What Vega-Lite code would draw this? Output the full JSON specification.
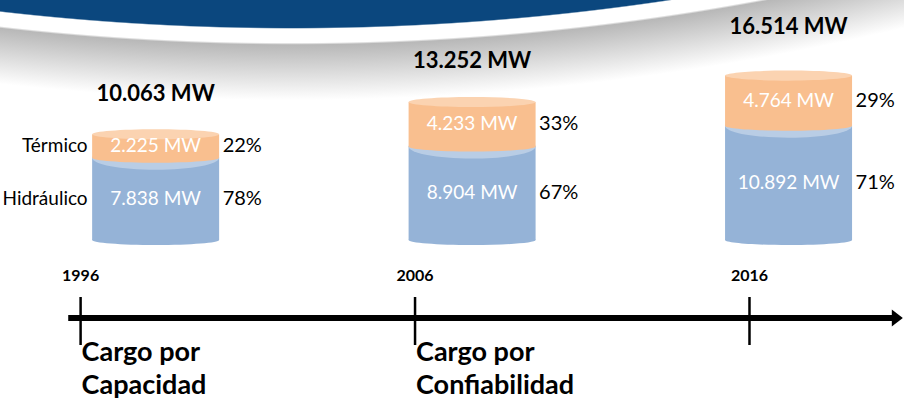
{
  "$schema": "https://vega.github.io/schema/vega-lite/v6.json",
  "width": 904,
  "height": 404,
  "padding": 0,
  "autosize": {"type": "none"},
  "datasets": {
    "segmentos": [
      {"year": 1996, "tipo": "Hidráulico", "mw": 7838, "pct": 0.78},
      {"year": 1996, "tipo": "Térmico", "mw": 2225, "pct": 0.22},
      {"year": 2006, "tipo": "Hidráulico", "mw": 8904, "pct": 0.67},
      {"year": 2006, "tipo": "Térmico", "mw": 4233, "pct": 0.33},
      {"year": 2016, "tipo": "Hidráulico", "mw": 10892, "pct": 0.71},
      {"year": 2016, "tipo": "Térmico", "mw": 4764, "pct": 0.29}
    ],
    "totales": [
      {"year": 1996, "total": 10063},
      {"year": 2006, "total": 13252},
      {"year": 2016, "total": 16514}
    ],
    "hitos": [
      {"year": 1996, "cargo": "Cargo por\nCapacidad"},
      {"year": 2006, "cargo": "Cargo por\nConfiabilidad"},
      {"year": 2016, "cargo": ""}
    ]
  },
  "resolve": {"scale": {"x": "independent"}},
  "layer": [
    {
      "data": {"values": [{}]},
      "mark": {
        "type": "rect",
        "stroke": null,
        "fill": {
          "gradient": "radial",
          "x1": 0.3226, "y1": -2.525, "r1": 0,
          "x2": 0.3226, "y2": -2.525, "r2": 2.987,
          "stops": [
            {"offset": 0, "color": "#0B477E"},
            {"offset": 0.9481, "color": "#0B477E"},
            {"offset": 0.9486, "color": "#ffffff"},
            {"offset": 0.9537, "color": "#ffffff"},
            {"offset": 0.9545, "color": "#b8b8b8"},
            {"offset": 0.975, "color": "#ffffff"},
            {"offset": 1, "color": "#ffffff"}
          ]
        }
      },
      "encoding": {}
    },
    {
      "data": {"name": "hitos"},
      "layer": [
        {
          "data": {"values": [{}]},
          "mark": {"type": "rule", "color": "#000000", "strokeWidth": 6},
          "encoding": {
            "x": {"datum": 1995.63, "type": "quantitative", "scale": {"domain": [1993.59, 2020.62], "nice": false, "zero": false}, "axis": null},
            "x2": {"datum": 2020.3},
            "y": {"datum": -7429, "type": "quantitative", "scale": {"domain": [-15619, 22857], "nice": false, "zero": false}, "axis": null}
          }
        },
        {
          "data": {"values": [{}]},
          "mark": {"type": "point", "shape": "M-0.65,-1L0.65,0L-0.65,1Z", "filled": true, "color": "#000000", "opacity": 1, "size": 289},
          "encoding": {
            "x": {"datum": 2020.42, "type": "quantitative", "scale": {"domain": [1993.59, 2020.62], "nice": false, "zero": false}, "axis": null},
            "y": {"datum": -7429, "type": "quantitative", "scale": {"domain": [-15619, 22857], "nice": false, "zero": false}, "axis": null}
          }
        },
        {
          "mark": {"type": "rule", "color": "#000000", "strokeWidth": 2.5},
          "encoding": {
            "x": {"field": "year", "type": "quantitative", "scale": {"domain": [1993.59, 2020.62], "nice": false, "zero": false}, "axis": null},
            "y": {"datum": -5429, "type": "quantitative", "scale": {"domain": [-15619, 22857], "nice": false, "zero": false}, "axis": null},
            "y2": {"datum": -10000}
          }
        },
        {
          "mark": {"type": "text", "fontWeight": "bold", "fontSize": 16, "color": "#000000", "baseline": "middle"},
          "encoding": {
            "x": {"field": "year", "type": "quantitative", "scale": {"domain": [1993.59, 2020.62], "nice": false, "zero": false}, "axis": null},
            "y": {"datum": -3429, "type": "quantitative", "scale": {"domain": [-15619, 22857], "nice": false, "zero": false}, "axis": null},
            "text": {"field": "year", "type": "nominal"}
          }
        },
        {
          "mark": {"type": "text", "fontWeight": "bold", "fontSize": 27, "color": "#000000", "align": "left", "baseline": "top", "dx": 1, "lineBreak": "\n", "lineHeight": 33},
          "encoding": {
            "x": {"field": "year", "type": "quantitative", "scale": {"domain": [1993.59, 2020.62], "nice": false, "zero": false}, "axis": null},
            "y": {"datum": -9524, "type": "quantitative", "scale": {"domain": [-15619, 22857], "nice": false, "zero": false}, "axis": null},
            "text": {"field": "cargo", "type": "nominal"}
          }
        }
      ]
    },
    {
      "layer": [
        {
          "data": {"name": "segmentos"},
          "transform": [
            {"stack": "mw", "groupby": ["year"], "sort": [{"field": "tipo", "order": "ascending"}], "as": ["y0", "y1"]}
          ],
          "layer": [
            {
              "transform": [{"filter": {"field": "tipo", "equal": "Hidráulico"}}],
              "layer": [
                {
                  "mark": {"type": "point", "shape": "M-1,0A1,0.079,0,1,0,1,0A1,0.079,0,1,0,-1,0Z", "filled": true, "color": "#95B3D7", "opacity": 1, "size": 16129},
                  "encoding": {
                    "x": {"field": "year", "type": "quantitative", "scale": {"domain": [1991.24, 2019.49], "nice": false, "zero": false}, "axis": null},
                    "y": {"field": "y0", "type": "quantitative", "scale": {"domain": [-15619, 22857], "nice": false, "zero": false}, "axis": null}
                  }
                },
                {
                  "mark": {"type": "bar", "width": 127, "color": "#95B3D7"},
                  "encoding": {
                    "x": {"field": "year", "type": "quantitative", "scale": {"domain": [1991.24, 2019.49], "nice": false, "zero": false}, "axis": null},
                    "y": {"field": "y0", "type": "quantitative", "scale": {"domain": [-15619, 22857], "nice": false, "zero": false}, "axis": null},
                    "y2": {"field": "y1"}
                  }
                },
                {
                  "mark": {"type": "point", "shape": "M-1,0A1,0.19,0,1,0,1,0A1,0.19,0,1,0,-1,0Z", "filled": true, "color": "#B9CDE5", "opacity": 1, "size": 16129},
                  "encoding": {
                    "x": {"field": "year", "type": "quantitative", "scale": {"domain": [1991.24, 2019.49], "nice": false, "zero": false}, "axis": null},
                    "y": {"field": "y1", "type": "quantitative", "scale": {"domain": [-15619, 22857], "nice": false, "zero": false}, "axis": null}
                  }
                }
              ]
            },
            {
              "transform": [{"filter": {"field": "tipo", "equal": "Térmico"}}],
              "layer": [
                {
                  "mark": {"type": "point", "shape": "M-1,0A1,0.079,0,1,0,1,0A1,0.079,0,1,0,-1,0Z", "filled": true, "color": "#F9BF8F", "opacity": 1, "size": 16129},
                  "encoding": {
                    "x": {"field": "year", "type": "quantitative", "scale": {"domain": [1991.24, 2019.49], "nice": false, "zero": false}, "axis": null},
                    "y": {"field": "y0", "type": "quantitative", "scale": {"domain": [-15619, 22857], "nice": false, "zero": false}, "axis": null}
                  }
                },
                {
                  "mark": {"type": "bar", "width": 127, "color": "#F9BF8F"},
                  "encoding": {
                    "x": {"field": "year", "type": "quantitative", "scale": {"domain": [1991.24, 2019.49], "nice": false, "zero": false}, "axis": null},
                    "y": {"field": "y0", "type": "quantitative", "scale": {"domain": [-15619, 22857], "nice": false, "zero": false}, "axis": null},
                    "y2": {"field": "y1"}
                  }
                },
                {
                  "mark": {"type": "point", "shape": "M-1,0A1,0.079,0,1,0,1,0A1,0.079,0,1,0,-1,0Z", "filled": true, "color": "#FBD3B1", "opacity": 1, "size": 16129},
                  "encoding": {
                    "x": {"field": "year", "type": "quantitative", "scale": {"domain": [1991.24, 2019.49], "nice": false, "zero": false}, "axis": null},
                    "y": {"field": "y1", "type": "quantitative", "scale": {"domain": [-15619, 22857], "nice": false, "zero": false}, "axis": null}
                  }
                }
              ]
            },
            {
              "transform": [
                {"fold": ["y0", "y1"], "as": ["borde", "valor"]},
                {"aggregate": [{"op": "mean", "field": "valor", "as": "ymid"}], "groupby": ["year", "tipo", "mw", "pct"]}
              ],
              "layer": [
                {
                  "mark": {"type": "text", "fontSize": 19, "color": "#ffffff", "baseline": "middle"},
                  "encoding": {
                    "x": {"field": "year", "type": "quantitative", "scale": {"domain": [1991.24, 2019.49], "nice": false, "zero": false}, "axis": null},
                    "y": {"field": "ymid", "type": "quantitative", "scale": {"domain": [-15619, 22857], "nice": false, "zero": false}, "axis": null},
                    "text": {"field": "mw", "type": "quantitative", "format": "$,d"}
                  }
                },
                {
                  "mark": {"type": "text", "fontSize": 20, "color": "#000000", "baseline": "middle", "align": "left", "dx": 67},
                  "encoding": {
                    "x": {"field": "year", "type": "quantitative", "scale": {"domain": [1991.24, 2019.49], "nice": false, "zero": false}, "axis": null},
                    "y": {"field": "ymid", "type": "quantitative", "scale": {"domain": [-15619, 22857], "nice": false, "zero": false}, "axis": null},
                    "text": {"field": "pct", "type": "quantitative", "format": ".0%"}
                  }
                },
                {
                  "transform": [{"filter": {"field": "year", "equal": 1996}}],
                  "mark": {"type": "text", "fontSize": 19, "color": "#000000", "baseline": "middle", "align": "right", "dx": -68},
                  "encoding": {
                    "x": {"field": "year", "type": "quantitative", "scale": {"domain": [1991.24, 2019.49], "nice": false, "zero": false}, "axis": null},
                    "y": {"field": "ymid", "type": "quantitative", "scale": {"domain": [-15619, 22857], "nice": false, "zero": false}, "axis": null},
                    "text": {"field": "tipo", "type": "nominal"}
                  }
                }
              ]
            }
          ]
        },
        {
          "data": {"name": "totales"},
          "mark": {"type": "text", "fontWeight": "bold", "fontSize": 22, "color": "#000000", "baseline": "middle", "dy": -40},
          "encoding": {
            "x": {"field": "year", "type": "quantitative", "scale": {"domain": [1991.24, 2019.49], "nice": false, "zero": false}, "axis": null},
            "y": {"field": "total", "type": "quantitative", "scale": {"domain": [-15619, 22857], "nice": false, "zero": false}, "axis": null},
            "text": {"field": "total", "type": "quantitative", "format": "$,d"}
          }
        }
      ]
    }
  ],
  "config": {
    "view": {"stroke": null},
    "font": "Lato",
    "text": {"font": "Lato"},
    "locale": {"number": {"decimal": ",", "thousands": ".", "grouping": [3], "currency": ["", " MW"]}}
  }
}
